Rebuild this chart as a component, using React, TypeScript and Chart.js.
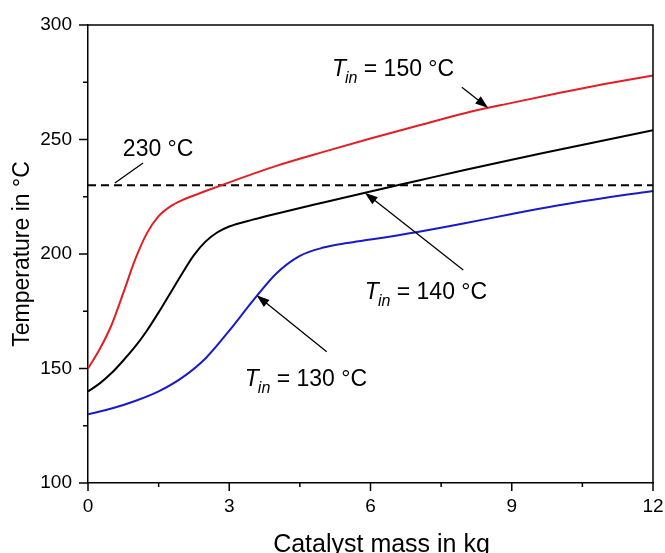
import React, { useEffect, useRef } from 'react';
import { Chart, registerables } from 'chart.js';

Chart.register(...registerables);

// ---- data ----
const massRed = [0, 0.25, 0.5, 0.75, 1.0, 1.25, 1.5, 1.75, 2.0, 2.5, 3.0, 4.0, 5.0, 6.0, 7.0, 8.0, 9.0, 10.0, 11.0, 12.0];
const tempRed = [150, 158.5, 169, 183, 197.5, 209, 216.5, 220.8, 223.5, 227.5, 231.3, 238.5, 244.6, 250.4, 256, 261.5, 266, 270.3, 274.3, 278];

const massBlack = [0, 0.25, 0.5, 0.75, 1.0, 1.25, 1.5, 1.75, 2.0, 2.25, 2.5, 2.75, 3.0, 3.5, 4.0, 5.0, 6.0, 7.0, 8.0, 9.0, 10.0, 11.0, 12.0];
const tempBlack = [140, 143.5, 148, 153.5, 159.5, 166.5, 174.5, 183, 191.5, 199.5, 205.5, 209.5, 212, 215, 217.6, 222.5, 227.3, 232, 236.7, 241.2, 245.5, 249.8, 254];

const massBlue = [0, 0.5, 1.0, 1.5, 2.0, 2.5, 3.0, 3.5, 4.0, 4.5, 5.0, 5.5, 6.0, 7.0, 8.0, 9.0, 10.0, 11.0, 12.0];
const tempBlue = [130, 132.5, 135.8, 140, 146, 154.5, 166.5, 179.5, 191.5, 199.2, 202.8, 204.8, 206.3, 209.6, 213.4, 217.5, 221.3, 224.6, 227.5];

const limitMass = [0, 12];
const limitTemp = [230, 230];

const xMajorTicks = [0, 3, 6, 9, 12];
const yMajorTicks = [100, 150, 200, 250, 300];

// annotation anchors, in data units
const labels = [
  { sub: true, text: ' = 150 \u00B0C', x: 5.18, y: 277.7 },
  { sub: true, text: ' = 140 \u00B0C', x: 5.88, y: 180.3 },
  { sub: true, text: ' = 130 \u00B0C', x: 3.33, y: 142.5 },
  { sub: false, text: '230 \u00B0C', x: 0.74, y: 242.8 },
];
const arrows = [
  { x1: 7.94, y1: 272.8, x2: 8.5, y2: 263.8, head: true },
  { x1: 7.97, y1: 193, x2: 5.88, y2: 226.8, head: true },
  { x1: 5.07, y1: 157.3, x2: 3.58, y2: 182, head: true },
  { x1: 1.17, y1: 239.7, x2: 0.57, y2: 231, head: false },
];

const FONT = '"Liberation Sans", Arial, Helvetica, sans-serif';

const zip = (xs: number[], ys: number[]) => xs.map((x, i) => ({ x, y: ys[i] }));

const framePlugin = {
  id: 'frame',
  afterDraw(chart: any) {
    const { ctx, chartArea, scales } = chart;
    const xs = scales.x;
    const ys = scales.y;
    ctx.save();
    ctx.strokeStyle = '#000';
    ctx.lineWidth = 1.5;
    // top and right frame
    ctx.beginPath();
    ctx.moveTo(chartArea.left, chartArea.top);
    ctx.lineTo(chartArea.right, chartArea.top);
    ctx.lineTo(chartArea.right, chartArea.bottom);
    ctx.stroke();
    // tick marks
    xs.ticks.forEach((t: any) => {
      const p = xs.getPixelForValue(t.value);
      const len = xMajorTicks.includes(t.value) ? 8 : 4;
      ctx.beginPath();
      ctx.moveTo(p, chartArea.bottom);
      ctx.lineTo(p, chartArea.bottom + len);
      ctx.stroke();
    });
    ys.ticks.forEach((t: any) => {
      const p = ys.getPixelForValue(t.value);
      const len = yMajorTicks.includes(t.value) ? 9 : 5;
      ctx.beginPath();
      ctx.moveTo(chartArea.left - len, p);
      ctx.lineTo(chartArea.left, p);
      ctx.stroke();
    });

    // arrows
    ctx.lineWidth = 1.3;
    ctx.fillStyle = '#000';
    arrows.forEach((a) => {
      const x1 = xs.getPixelForValue(a.x1), y1 = ys.getPixelForValue(a.y1);
      const x2 = xs.getPixelForValue(a.x2), y2 = ys.getPixelForValue(a.y2);
      const ang = Math.atan2(y2 - y1, x2 - x1);
      const hl = 13, hw = 4.5;
      ctx.beginPath();
      ctx.moveTo(x1, y1);
      if (a.head) ctx.lineTo(x2 - Math.cos(ang) * hl * 0.8, y2 - Math.sin(ang) * hl * 0.8);
      else ctx.lineTo(x2, y2);
      ctx.stroke();
      if (a.head) {
        const bx = x2 - Math.cos(ang) * hl, by = y2 - Math.sin(ang) * hl;
        ctx.beginPath();
        ctx.moveTo(x2, y2);
        ctx.lineTo(bx + Math.sin(ang) * hw, by - Math.cos(ang) * hw);
        ctx.lineTo(bx - Math.sin(ang) * hw, by + Math.cos(ang) * hw);
        ctx.closePath();
        ctx.fill();
      }
    });

    // labels
    ctx.textBaseline = 'alphabetic';
    ctx.textAlign = 'left';
    labels.forEach((l) => {
      let x = xs.getPixelForValue(l.x);
      const y = ys.getPixelForValue(l.y);
      if (l.sub) {
        ctx.font = `italic 23px ${FONT}`;
        ctx.fillText('T', x, y);
        x += ctx.measureText('T').width - 1;
        ctx.font = `italic 16px ${FONT}`;
        ctx.fillText('in', x, y + 7);
        x += ctx.measureText('in').width;
      }
      ctx.font = `23px ${FONT}`;
      ctx.fillText(l.text, x, y);
    });

    // axis titles
    ctx.font = `25px ${FONT}`;
    ctx.textAlign = 'center';
    ctx.fillText('Catalyst mass in kg', (chartArea.left + chartArea.right) / 2 + 11, 552);
    ctx.save();
    ctx.translate(29, (chartArea.top + chartArea.bottom) / 2);
    ctx.rotate(-Math.PI / 2);
    ctx.font = `23px ${FONT}`;
    ctx.fillText('Temperature in \u00B0C', 0, 0);
    ctx.restore();
    ctx.restore();
  },
};

export default function App() {
  const ref = useRef<HTMLCanvasElement>(null);
  useEffect(() => {
    if (!ref.current) return;
    const lineDs = (label: string, data: any[], color: string, dash: number[] = []) => ({
      label,
      data,
      borderColor: color,
      backgroundColor: color,
      borderWidth: 2,
      borderDash: dash,
      pointRadius: 0,
      fill: false,
      cubicInterpolationMode: 'monotone' as const,
    });
    const chart = new Chart(ref.current, {
      type: 'line',
      data: {
        datasets: [
          lineDs('T_in = 150 °C', zip(massRed, tempRed), '#e31e24'),
          lineDs('T_in = 140 °C', zip(massBlack, tempBlack), '#000000'),
          lineDs('T_in = 130 °C', zip(massBlue, tempBlue), '#1a1ac8'),
          { ...lineDs('230 °C', zip(limitMass, limitTemp), '#000000', [8, 5]), cubicInterpolationMode: 'default' as const, tension: 0 },
        ],
      },
      options: {
        animation: false,
        responsive: false,
        devicePixelRatio: 1,
        layout: { padding: { top: 25, right: 12, left: 0, bottom: 0 } },
        plugins: { legend: { display: false }, tooltip: { enabled: false } },
        scales: {
          x: {
            type: 'linear',
            min: 0,
            max: 12,
            afterFit: (s: any) => { s.height = 70; },
            afterBuildTicks: (s: any) => {
              s.ticks = [0, 1.5, 3, 4.5, 6, 7.5, 9, 10.5, 12].map((v) => ({ value: v }));
            },
            ticks: {
              autoSkip: false,
              maxRotation: 0,
              padding: 0,
              color: '#000',
              font: { family: FONT, size: 19 },
              callback: (v: any) => (xMajorTicks.includes(Number(v)) ? String(v) : ''),
            },
            grid: { display: true, drawOnChartArea: false, drawTicks: true, tickLength: 12, tickColor: 'rgba(0,0,0,0)' },
            border: { display: true, color: '#000', width: 1.5 },
          },
          y: {
            type: 'linear',
            min: 100,
            max: 300,
            afterFit: (s: any) => { s.width = 88; },
            afterBuildTicks: (s: any) => {
              s.ticks = [100, 125, 150, 175, 200, 225, 250, 275, 300].map((v) => ({ value: v }));
            },
            ticks: {
              autoSkip: false,
              padding: 0,
              color: '#000',
              font: { family: FONT, size: 19 },
              callback: (v: any) => (yMajorTicks.includes(Number(v)) ? String(v) : ''),
            },
            grid: { display: true, drawOnChartArea: false, drawTicks: true, tickLength: 16, tickColor: 'rgba(0,0,0,0)' },
            border: { display: true, color: '#000', width: 1.5 },
          },
        },
      },
      plugins: [framePlugin],
    });
    return () => chart.destroy();
  }, []);
  return (
    <div style={{ position: 'absolute', left: 0, top: 0, width: 665, height: 553, background: '#fff' }}>
      <canvas ref={ref} width={665} height={553} />
    </div>
  );
}
